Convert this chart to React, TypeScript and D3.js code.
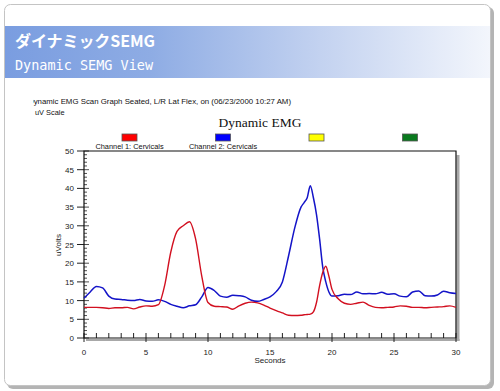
import React from "react";
import * as d3 from "d3";

const seconds = [0,0.5,1,1.5,2,2.5,3,3.5,4,4.5,5,5.5,6,6.5,7,7.5,8,8.5,9,9.5,10,10.5,11,11.5,12,12.5,13,13.5,14,14.5,15,15.5,16,16.5,17,17.5,
  17.75,18,18.25,18.5,18.75,19,19.25,19.5,19.75,20,
  20.5,21,21.5,22,22.5,23,23.5,24,24.5,25,25.5,26,26.5,27,27.5,28,28.5,29,29.5,30];

const channel1 = [8.2,8.2,8.2,8.1,7.9,8.1,8.1,8.2,7.8,8.3,8.6,8.5,8.9,14,23,28.5,30,31.1,26.5,16.5,9.5,8.5,8.4,8.3,7.7,8.6,9.3,9.6,9.4,8.8,8.0,7.3,6.7,6.1,6.0,6.1,
  6.2,6.3,6.4,7.0,9.5,14,17.5,19.2,16.5,13,
  10.5,9.3,9.0,9.3,9.6,8.7,8.2,8.1,8.2,8.3,8.6,8.5,8.2,8.2,8.1,8.2,8.3,8.4,8.6,8.2];

const channel2 = [10.6,12.3,13.8,13.4,11.2,10.4,10.3,10.1,10.0,10.3,9.9,9.8,10.2,9.8,9.0,8.5,8.1,8.6,8.9,11.0,13.5,12.7,11.2,10.9,11.4,11.3,11.0,10.1,9.8,10.3,11.0,12.4,15.0,22,29.5,35,
  36.2,37.5,40.7,37.5,33,26.5,19,15,12.3,11.2,
  11.3,11.7,11.6,12.3,11.8,11.9,11.8,12.2,11.7,11.8,11.2,11.0,12.3,12.6,11.3,11.2,11.5,12.5,12.1,11.9];

const yTicks = [0,5,10,15,20,25,30,35,40,45,50];
const xTicks = [0,5,10,15,20,25,30];
const legendLabels = ["Channel 1: Cervicals", "Channel 2: Cervicals", "", ""];
const legendColors = ["#ff0000", "#0000ff", "#ffff00", "#0a7a1e"];

export default function App() {
  const W = 500, H = 391;
  const x = d3.scaleLinear().domain([0, 30]).range([84, 456]);
  const y = d3.scaleLinear().domain([0, 50]).range([338, 151]);
  const line = (vals: number[]) =>
    d3.line<number>()
      .x((_, i) => x(seconds[i]))
      .y((d) => y(d))
      .curve(d3.curveMonotoneX)(vals) || "";

  const minorY = d3.range(0, 51, 1);
  const minorX = d3.range(0, 31, 1);
  const sans = "'Liberation Sans', Arial, sans-serif";

  return (
    <svg width={W} height={H} style={{ position: "absolute", left: 0, top: 0 }}>
      <defs>
        <linearGradient id="hdr" x1="0" x2="1" y1="0" y2="0">
          <stop offset="0" stopColor="#7a9de0" />
          <stop offset="0.3" stopColor="#8eacE4" />
          <stop offset="0.65" stopColor="#c3d2f0" />
          <stop offset="1" stopColor="#f3f6fc" />
        </linearGradient>
        <clipPath id="txtclip">
          <rect x={33} y={90} width={300} height={30} />
        </clipPath>
      </defs>
      <rect x={0} y={0} width={W} height={H} fill="#ffffff" />
      {/* card shadow */}
      <rect x={7} y={7} width={487} height={382} rx={6} fill="#b4b4b4" />
      <rect x={4.5} y={4.5} width={486} height={381} rx={6} fill="#ffffff" stroke="#c4c4c4" />
      {/* header band */}
      <rect x={5} y={26} width={485} height={52} fill="url(#hdr)" />
      <text x={15} y={47} fill="#ffffff" fontFamily="'Noto Sans CJK JP', sans-serif" fontWeight="bold" fontSize={16} textLength={140} lengthAdjust="spacing">ダイナミックSEMG</text>
      <text x={15} y={70} fill="#ffffff" fontFamily="'DejaVu Sans Mono', monospace" fontSize={13.5} textLength={138} lengthAdjust="spacingAndGlyphs">Dynamic SEMG View</text>

      {/* small header texts */}
      <g clipPath="url(#txtclip)" fontFamily={sans} fontSize={7.4} fill="#111">
        <text x={28} y={104} textLength={263} lengthAdjust="spacingAndGlyphs">Dynamic EMG Scan Graph Seated, L/R Lat Flex,  on (06/23/2000 10:27 AM)</text>
        <text x={35} y={115}>uV Scale</text>
      </g>
      <text x={260} y={127} textAnchor="middle" fontFamily="'Liberation Serif', 'Times New Roman', serif" fontSize={13.5} fill="#111">Dynamic EMG</text>

      {/* legend */}
      {legendColors.map((c, i) => {
        const cx = 129.5 + i * 93.5;
        return (
          <g key={i}>
            <rect x={cx - 7.5} y={134} width={15} height={7} fill={c} stroke="#555" strokeWidth={0.8} />
            {legendLabels[i] && (
              <text x={cx} y={148.5} textAnchor="middle" fontFamily={sans} fontSize={7.4} fill="#111">{legendLabels[i]}</text>
            )}
          </g>
        );
      })}

      {/* frame shadow */}
      <rect x={456.5} y={155} width={3} height={186} fill="#a8a8a8" />
      <rect x={86} y={339} width={373.5} height={2} fill="#a8a8a8" />

      {/* y axis ticks */}
      {minorY.map((v) => (
        <line key={"my" + v} x1={84} x2={v % 5 === 0 ? 89 : 87} y1={y(v)} y2={y(v)} stroke="#222" strokeWidth={0.8} />
      ))}
      {yTicks.map((v) => (
        <g key={"yt" + v}>
          <line x1={77} x2={84} y1={y(v)} y2={y(v)} stroke="#222" strokeWidth={1} />
          <text x={74} y={y(v) + 3} textAnchor="end" fontFamily={sans} fontSize={8} fill="#222">{v}</text>
        </g>
      ))}
      {/* x axis ticks */}
      {minorX.map((v) => (
        <line key={"mx" + v} x1={x(v)} x2={x(v)} y1={333} y2={338} stroke="#222" strokeWidth={1} />
      ))}
      {xTicks.map((v) => (
        <g key={"xt" + v}>
          <line x1={x(v)} x2={x(v)} y1={338} y2={342} stroke="#222" strokeWidth={1} />
          <text x={x(v)} y={355} textAnchor="middle" fontFamily={sans} fontSize={8} fill="#222">{v}</text>
        </g>
      ))}
      <text x={270} y={363} textAnchor="middle" fontFamily={sans} fontSize={8} fill="#222">Seconds</text>
      <text transform="translate(61,245) rotate(-90)" textAnchor="middle" fontFamily={sans} fontSize={8} fill="#222">uVolts</text>

      {/* frame */}
      <path d={`M84,151H456V338H84Z`} fill="none" stroke="#111" strokeWidth={1.2} />

      {/* series */}
      <path d={line(channel2)} fill="none" stroke="#1414c8" strokeWidth={1.5} strokeLinejoin="round" />
      <path d={line(channel1)} fill="none" stroke="#d21020" strokeWidth={1.4} strokeLinejoin="round" />
    </svg>
  );
}
